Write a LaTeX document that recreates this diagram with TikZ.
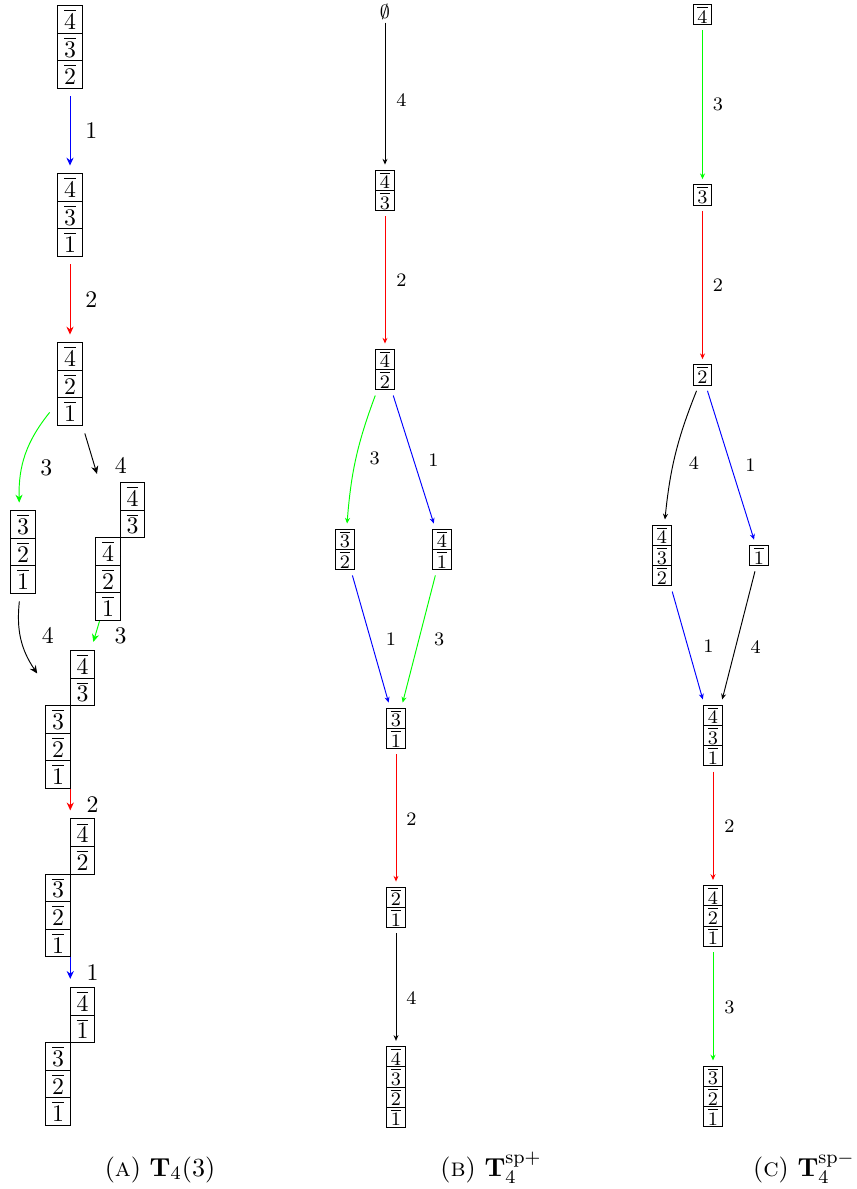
\documentclass[tikz,border=0pt]{standalone}
\usetikzlibrary{positioning, fit, shapes.multipart, arrows.meta}
\newcommand{\ob}[1]{$\overline{#1}$}

\begin{document}
\begin{tikzpicture}[x=0.42pt, y=-0.42pt]
		\tikzset{tab/.style={rectangle split, draw, inner xsep=0pt, inner ysep=1.37pt, minimum width=10.3pt, outer sep=3.4pt}};
		\tikzset{skw/.style={tab, outer sep=0pt}};
		\tikzset{stab/.style={tab, font=\footnotesize, inner ysep=0.47pt, minimum width=7.7pt, outer sep=2.4pt}};
		\tikzset{lbl/.style={inner sep=0pt, text=black}, slbl/.style={lbl, font=\footnotesize}};
		\tikzset{arr/.style={-{Stealth[length=3.3pt, width=3pt]}}, sarr/.style={-{Stealth[length=2.4pt, width=2.1pt]}}};
		\tikzset{captxt/.style={font=\fontsize{10.95}{13}\selectfont, inner sep=0pt}};

		\useasboundingbox (0,0) rectangle (857,1189);

		% (A)
		\node[tab, rectangle split parts=3] (t1) at (70,47) {\ob{4}\nodepart{two}\ob{3}\nodepart{three}\ob{2}};
		\node[tab, rectangle split parts=3] (t2) at (70,215) {\ob{4}\nodepart{two}\ob{3}\nodepart{three}\ob{1}};
		\node[tab, rectangle split parts=3] (t3) at (70,384) {\ob{4}\nodepart{two}\ob{2}\nodepart{three}\ob{1}};
		\node[tab, rectangle split parts=3] (t4) at (23,552) {\ob{3}\nodepart{two}\ob{2}\nodepart{three}\ob{1}};

		\node[skw, rectangle split parts=3] (t5l) at (108,579) {\ob{4}\nodepart{two}\ob{2}\nodepart{three}\ob{1}};
		\node[skw, rectangle split parts=2, anchor=south west] (t5r) at (t5l.north east) {\ob{4}\nodepart{two}\ob{3}};
		\node[fit=(t5l)(t5r), inner sep=3.4pt] (t5) {};

		\node[skw, rectangle split parts=3] (t6l) at (58,747) {\ob{3}\nodepart{two}\ob{2}\nodepart{three}\ob{1}};
		\node[skw, rectangle split parts=2, anchor=south west] (t6r) at (t6l.north east) {\ob{4}\nodepart{two}\ob{3}};
		\node[fit=(t6l)(t6r), inner sep=3.4pt] (t6) {};

		\node[skw, rectangle split parts=3] (t7l) at (58,915.5) {\ob{3}\nodepart{two}\ob{2}\nodepart{three}\ob{1}};
		\node[skw, rectangle split parts=2, anchor=south west] (t7r) at (t7l.north east) {\ob{4}\nodepart{two}\ob{2}};
		\node[fit=(t7l)(t7r), inner sep=3.4pt] (t7) {};

		\node[skw, rectangle split parts=3] (t8l) at (58,1084) {\ob{3}\nodepart{two}\ob{2}\nodepart{three}\ob{1}};
		\node[skw, rectangle split parts=2, anchor=south west] (t8r) at (t8l.north east) {\ob{4}\nodepart{two}\ob{1}};
		\node[fit=(t8l)(t8r), inner sep=3.4pt] (t8) {};

		\draw[arr, blue] (t1) -- node[lbl, right=6.3pt] (la1) {$1$} (t2);
		\draw[arr, red] (t2) -- node[lbl, right=6.3pt] (la2) {$2$} (t3);
		\draw[arr, green] (t3) to[bend right=20] node[lbl, pos=.65, right=7.6pt] (la3) {$3$} (t4);
		\draw[arr] (t3) -- node[lbl, pos=.79, right=8.4pt] (la4) {$4$} (t5);
		\draw[arr] (t4) to[bend right=20] node[lbl, pos=.45, right=8.9pt] (la5) {$4$} (t6);
		\draw[arr, green, shorten <=-3.4pt] (t5) -- node[lbl, pos=.53, right=8pt] (la6) {$3$} (t6);
		\draw[arr, red, shorten <=-3.4pt] (t6) -- node[lbl, pos=.56, right=6.7pt] (la7) {$2$} (t7);
		\draw[arr, blue, shorten <=-3.4pt] (t7) -- node[lbl, pos=.53, right=6.7pt] (la8) {$1$} (t8);

		% (B)
		\node[font=\footnotesize, inner sep=1pt] (b1) at (385,12) {$\emptyset$};
		\node[stab, rectangle split parts=2] (b2) at (385,190.5) {\ob{4}\nodepart{two}\ob{3}};
		\node[stab, rectangle split parts=2] (b3) at (385,369.5) {\ob{4}\nodepart{two}\ob{2}};
		\node[stab, rectangle split parts=2] (b4) at (345,549.5) {\ob{3}\nodepart{two}\ob{2}};
		\node[stab, rectangle split parts=2] (b5) at (442,549.5) {\ob{4}\nodepart{two}\ob{1}};
		\node[stab, rectangle split parts=2] (b6) at (396,728.5) {\ob{3}\nodepart{two}\ob{1}};
		\node[stab, rectangle split parts=2] (b7) at (396,907.5) {\ob{2}\nodepart{two}\ob{1}};
		\node[stab, rectangle split parts=4] (b8) at (396,1087) {\ob{4}\nodepart{two}\ob{3}\nodepart{three}\ob{2}\nodepart{four}\ob{1}};

		\draw[sarr] (b1) -- node[slbl, pos=.55, right=4.6pt] (lb1) {$4$} (b2);
		\draw[sarr, red] (b2) -- node[slbl, right=4.6pt] (lb2) {$2$} (b3);
		\draw[sarr, green] (b3) to[bend right=8] node[slbl, right=5.5pt] (lb3) {$3$} (b4);
		\draw[sarr, blue] (b3) -- node[slbl, pos=.51, right=5.9pt] (lb4) {$1$} (b5);
		\draw[sarr, blue] (b4) -- node[slbl, right=6.3pt] (lb5) {$1$} (b6);
		\draw[sarr, green] (b5) -- node[slbl, right=6.1pt] (lb6) {$3$} (b6);
		\draw[sarr, red] (b6) -- node[slbl, pos=.51, right=4.2pt] (lb7) {$2$} (b7);
		\draw[sarr] (b7) -- node[slbl, pos=.6, right=4.2pt] (lb8) {$4$} (b8);

		% (C)
		\node[stab, rectangle split parts=1] (c1) at (702.5,14.5) {\ob{4}};
		\node[stab, rectangle split parts=1] (c2) at (702.5,195) {\ob{3}};
		\node[stab, rectangle split parts=1] (c3) at (702.5,375) {\ob{2}};
		\node[stab, rectangle split parts=3] (c4) at (662,555.5) {\ob{4}\nodepart{two}\ob{3}\nodepart{three}\ob{2}};
		\node[stab, rectangle split parts=1] (c5) at (759,555.5) {\ob{1}};
		\node[stab, rectangle split parts=3] (c6) at (713,735.5) {\ob{4}\nodepart{two}\ob{3}\nodepart{three}\ob{1}};
		\node[stab, rectangle split parts=3] (c7) at (713,916) {\ob{4}\nodepart{two}\ob{2}\nodepart{three}\ob{1}};
		\node[stab, rectangle split parts=3] (c8) at (713,1096.5) {\ob{3}\nodepart{two}\ob{2}\nodepart{three}\ob{1}};

		\draw[sarr, green] (c1) -- node[slbl, right=4.2pt] (lc1) {$3$} (c2);
		\draw[sarr, red] (c2) -- node[slbl, right=4.2pt] (lc2) {$2$} (c3);
		\draw[sarr] (c3) to[bend right=8] node[slbl, pos=.58, right=6.3pt] (lc3) {$4$} (c4);
		\draw[sarr, blue] (c3) -- node[slbl, right=5.9pt] (lc4) {$1$} (c5);
		\draw[sarr, blue] (c4) -- node[slbl, pos=.51, right=6.3pt] (lc5) {$1$} (c6);
		\draw[sarr] (c5) -- node[slbl, pos=.59, right=6.1pt] (lc6) {$4$} (c6);
		\draw[sarr, red] (c6) -- node[slbl, pos=.51, right=4.6pt] (lc7) {$2$} (c7);
		\draw[sarr, green] (c7) -- node[slbl, pos=.51, right=4.6pt] (lc8) {$3$} (c8);

		% captions
		\node[captxt, anchor=base] (capa) at (160,1176) {(\textsc{a}) $\mathbf{T}_4(3)$};
		\node[captxt, anchor=base] (capb) at (491,1176) {(\textsc{b}) $\mathbf{T}_4^{\mathrm{sp}+}$};
		\node[captxt, anchor=base east] (capc) at (855,1176) {(\textsc{c}) $\mathbf{T}_4^{\mathrm{sp}-}$};
	\end{tikzpicture}
\end{document}
